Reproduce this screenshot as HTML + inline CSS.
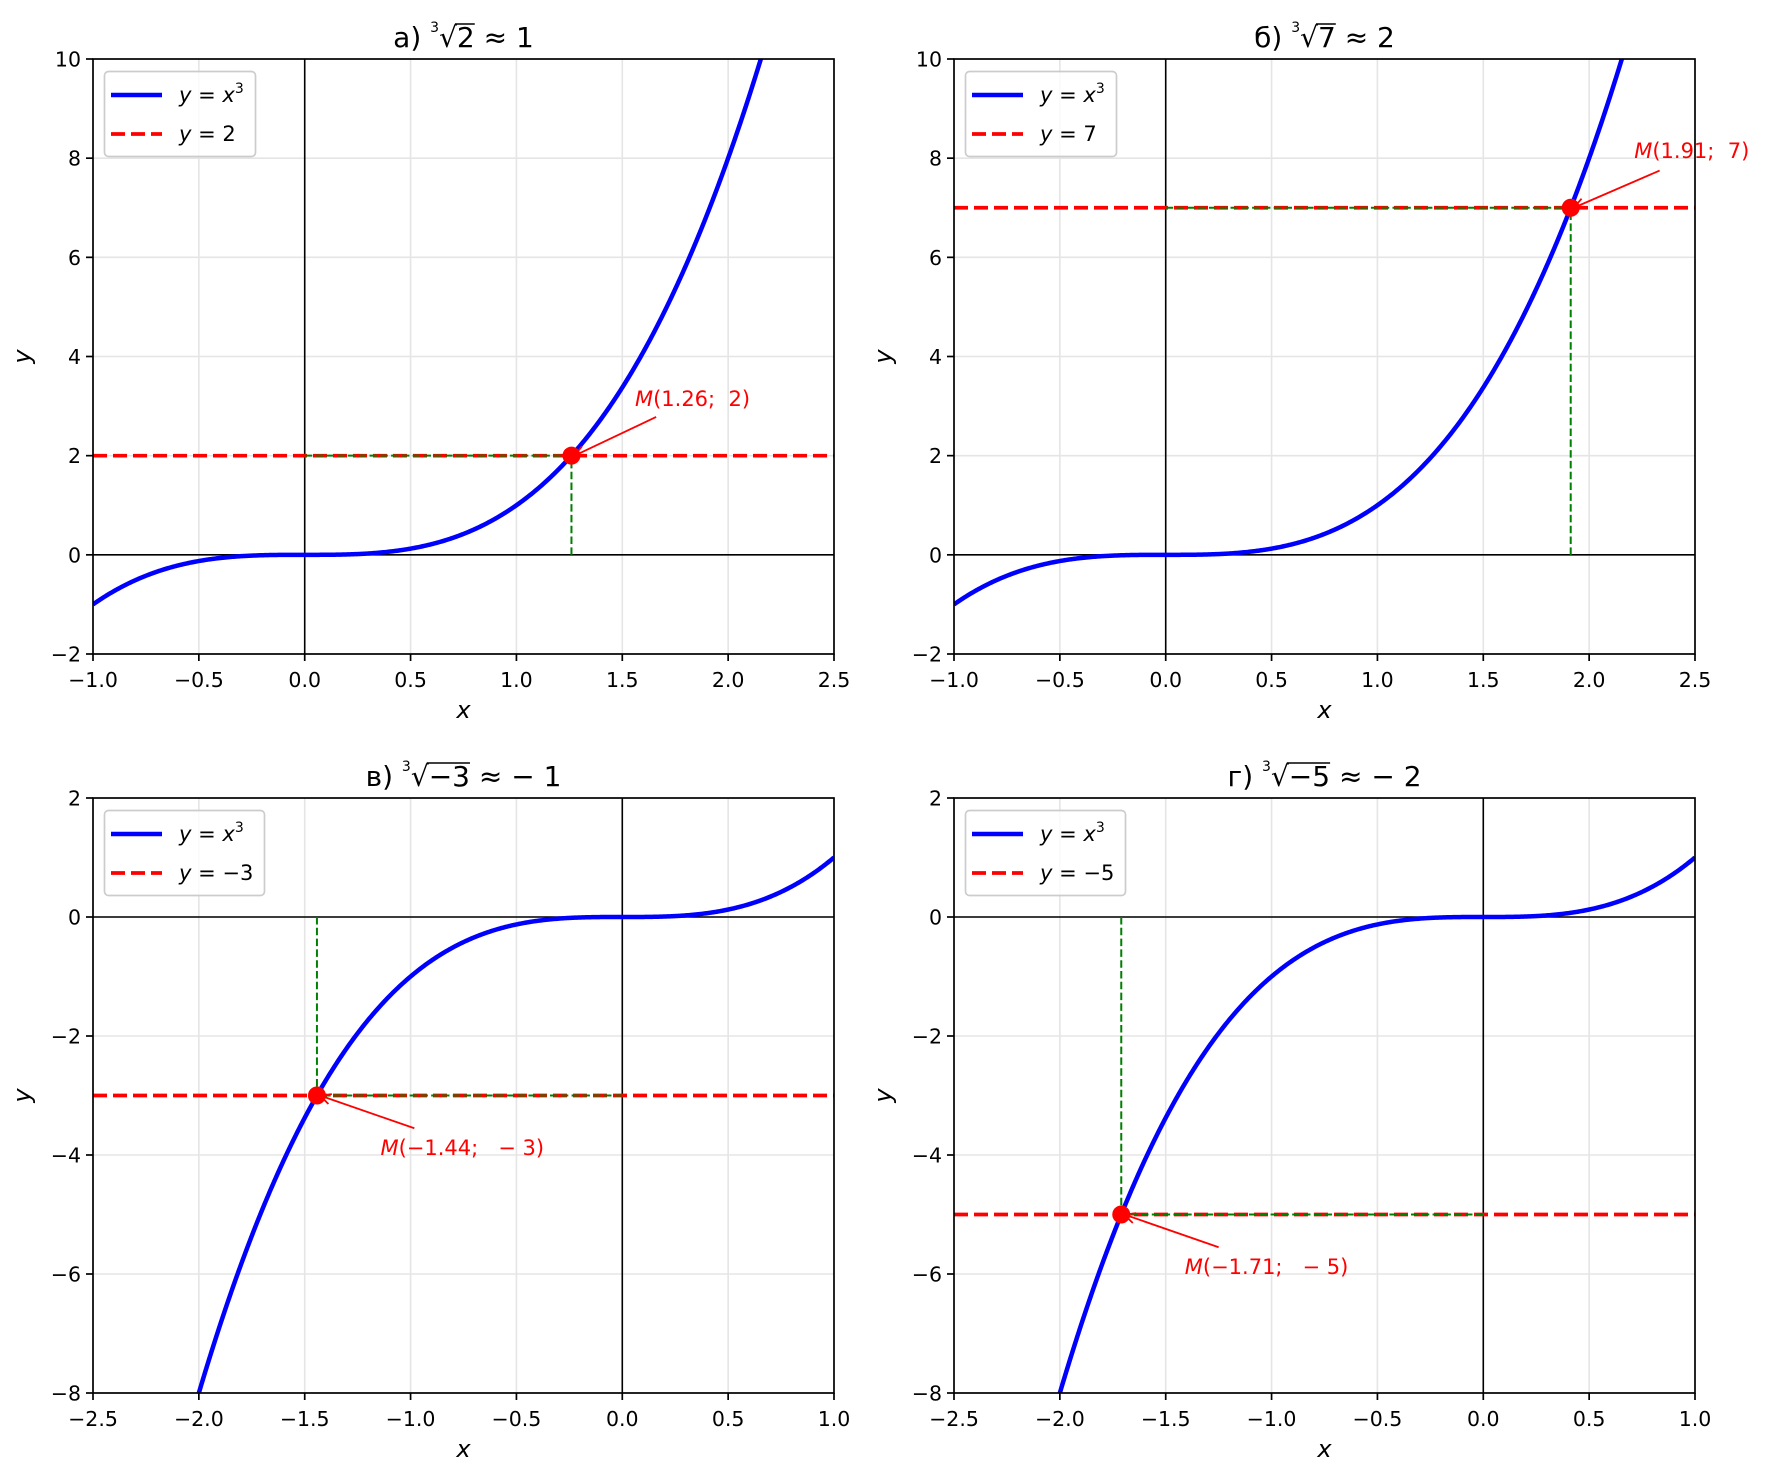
<!DOCTYPE html>
<html><head><meta charset="utf-8"><style>
html,body{margin:0;background:#fff;width:1772px;height:1476px;overflow:hidden;}
svg{display:block;font-family:"DejaVu Sans","Liberation Sans",sans-serif;}
</style></head><body>
<svg id="s" width="1772" height="1476" xmlns="http://www.w3.org/2000/svg"></svg>
<script>
const S=document.getElementById('s');let out='';
const M='\u2212',NB='\u00a0';
function fmt(v,d){let s=Math.abs(v).toFixed(d);return (v<-1e-9?M:'')+s;}
function fmt2(v,d){let s=Math.abs(v).toFixed(d);return (v<-1e-9?NB+M+NB:'')+s;}
const P=[
 {L:93,T:59,x0:-1,x1:2.5,y0:-2,y1:10,ys:2,c:2,lab:'2',t:'а)',rad:'2',res:'1',ax:0.4,ay:0.78,tx:0.3,ty:1},
 {L:954,T:59,x0:-1,x1:2.5,y0:-2,y1:10,ys:2,c:7,lab:'7',t:'б)',rad:'7',res:'2',ax:0.42,ay:0.75,tx:0.3,ty:1},
 {L:93,T:798,x0:-2.5,x1:1,y0:-8,y1:2,ys:2,c:-3,lab:M+'3',t:'в)',rad:M+'3',res:M+' 1',ax:0.46,ay:-0.55,tx:0.3,ty:-1},
 {L:954,T:798,x0:-2.5,x1:1,y0:-8,y1:2,ys:2,c:-5,lab:M+'5',t:'г)',rad:M+'5',res:M+' 2',ax:0.46,ay:-0.55,tx:0.3,ty:-1}
];
const W=741,H=595;
P.forEach((p,i)=>{
 const X=x=>p.L+(x-p.x0)/(p.x1-p.x0)*W, Y=y=>p.T+H-(y-p.y0)/(p.y1-p.y0)*H;
 const B=p.T+H,R=p.L+W;
 out+=`<clipPath id="c${i}"><rect x="${p.L}" y="${p.T}" width="${W}" height="${H}"/></clipPath>`;
 let g=`<g clip-path="url(#c${i})">`;
 for(let x=p.x0;x<=p.x1+1e-9;x+=0.5)g+=`<line x1="${X(x)}" x2="${X(x)}" y1="${p.T}" y2="${B}" stroke="#e5e5e5" stroke-width="1.6"/>`;
 for(let y=p.y0;y<=p.y1+1e-9;y+=p.ys)g+=`<line y1="${Y(y)}" y2="${Y(y)}" x1="${p.L}" x2="${R}" stroke="#e5e5e5" stroke-width="1.6"/>`;
 g+=`<line x1="${p.L}" x2="${R}" y1="${Y(0)}" y2="${Y(0)}" stroke="#000" stroke-width="1.6"/>`;
 g+=`<line x1="${X(0)}" x2="${X(0)}" y1="${p.T}" y2="${B}" stroke="#000" stroke-width="1.6"/>`;
 let d='';for(let k=0;k<=600;k++){const x=p.x0+(p.x1-p.x0)*k/600;const y=Math.max(Math.min(x*x*x,p.y1+3),p.y0-3);d+=(k?'L':'M')+X(x).toFixed(2)+' '+Y(y).toFixed(2);}
 g+=`<path d="${d}" fill="none" stroke="#0000ff" stroke-width="4.5"/>`;
 g+=`<line x1="${p.L}" x2="${R}" y1="${Y(p.c)}" y2="${Y(p.c)}" stroke="#ff0000" stroke-width="3.7" stroke-dasharray="14 6"/>`;
 const r=Math.cbrt(p.c);
 g+=`<line x1="${X(0)}" x2="${X(r)}" y1="${Y(p.c)}" y2="${Y(p.c)}" stroke="#008000" stroke-width="2" stroke-dasharray="7.5 3.3"/>`;
 g+=`<line x1="${X(r)}" x2="${X(r)}" y1="${Y(0)}" y2="${Y(p.c)}" stroke="#008000" stroke-width="2" stroke-dasharray="7.5 3.3"/>`;
 g+=`<circle cx="${X(r)}" cy="${Y(p.c)}" r="9" fill="#ff0000"/>`;
 g+='</g>';out+=g;
 const sx=X(r+p.ax),sy=Y(p.c+p.ay),ex=X(r)+3,ey=Y(p.c);
 const ang=Math.atan2(ey-sy,ex-sx),h=12;
 out+=`<line x1="${sx}" y1="${sy}" x2="${ex}" y2="${ey}" stroke="#f00" stroke-width="1.8"/>`;
 out+=`<path d="M${ex-h*Math.cos(ang-0.45)} ${ey-h*Math.sin(ang-0.45)}L${ex} ${ey}L${ex-h*Math.cos(ang+0.45)} ${ey-h*Math.sin(ang+0.45)}" fill="none" stroke="#f00" stroke-width="1.8"/>`;
 out+=`<text x="${X(r+p.tx)}" y="${Y(p.c+p.ty)}" font-size="21" fill="#f00"><tspan font-style="italic">M</tspan>(${fmt(r,2)};${NB}${NB}${fmt2(p.c,0)})</text>`;
 out+=`<rect x="${p.L}" y="${p.T}" width="${W}" height="${H}" fill="none" stroke="#000" stroke-width="1.7"/>`;
 for(let x=p.x0;x<=p.x1+1e-9;x+=0.5){out+=`<line x1="${X(x)}" x2="${X(x)}" y1="${B}" y2="${B+7}" stroke="#000" stroke-width="1.7"/><text x="${X(x)}" y="${B+33}" font-size="20.5" text-anchor="middle">${fmt(x,1)}</text>`;}
 for(let y=p.y0;y<=p.y1+1e-9;y+=p.ys){out+=`<line x1="${p.L-7}" x2="${p.L}" y1="${Y(y)}" y2="${Y(y)}" stroke="#000" stroke-width="1.7"/><text x="${p.L-12}" y="${Y(y)+7.5}" font-size="20.5" text-anchor="end">${fmt(y,0)}</text>`;}
 out+=`<text x="${p.L+W/2}" y="${B+64}" font-size="24" font-style="italic" text-anchor="middle">x</text>`;
 out+=`<text transform="translate(${p.L-63},${p.T+H/2}) rotate(-90)" font-size="24" font-style="italic" text-anchor="middle">y</text>`;
 const lw=p.lab.length>1?160:151;
 out+=`<rect x="${p.L+11.5}" y="${p.T+12.5}" width="${lw}" height="85" rx="4" fill="#fff" fill-opacity="0.8" stroke="#ccc" stroke-width="1.7"/>`;
 out+=`<line x1="${p.L+18}" x2="${p.L+69}" y1="${p.T+36}" y2="${p.T+36}" stroke="#00f" stroke-width="4.5"/>`;
 out+=`<line x1="${p.L+18}" x2="${p.L+69}" y1="${p.T+75}" y2="${p.T+75}" stroke="#f00" stroke-width="3.7" stroke-dasharray="14 6"/>`;
 out+=`<text x="${p.L+86}" y="${p.T+43}" font-size="21"><tspan font-style="italic">y</tspan> = <tspan font-style="italic">x</tspan><tspan font-size="14" dy="-9">3</tspan></text>`;
 out+=`<text x="${p.L+86}" y="${p.T+82}" font-size="21"><tspan font-style="italic">y</tspan> = ${p.lab}</text>`;
 const ty=p.T-12, cx=p.L+W/2;
 const tid='t'+i;
 out+=`<text id="${tid}" x="${cx}" y="${ty}" font-size="28" text-anchor="middle">${p.t} <tspan font-size="14" dy="-15">3</tspan><tspan dy="15">√</tspan><tspan id="${tid}r">${p.rad}</tspan> ≈ ${p.res}</text>`;
});
S.innerHTML=out;
P.forEach((p,i)=>{const e=document.getElementById('t'+i+'r');if(!e)return;try{const b=e.getBBox();const l=document.createElementNS('http://www.w3.org/2000/svg','line');l.setAttribute('x1',b.x-2);l.setAttribute('x2',b.x+b.width);l.setAttribute('y1',b.y+3);l.setAttribute('y2',b.y+3);l.setAttribute('stroke','#000');l.setAttribute('stroke-width','1.5');S.appendChild(l);}catch(err){}});
</script>
</body></html>
